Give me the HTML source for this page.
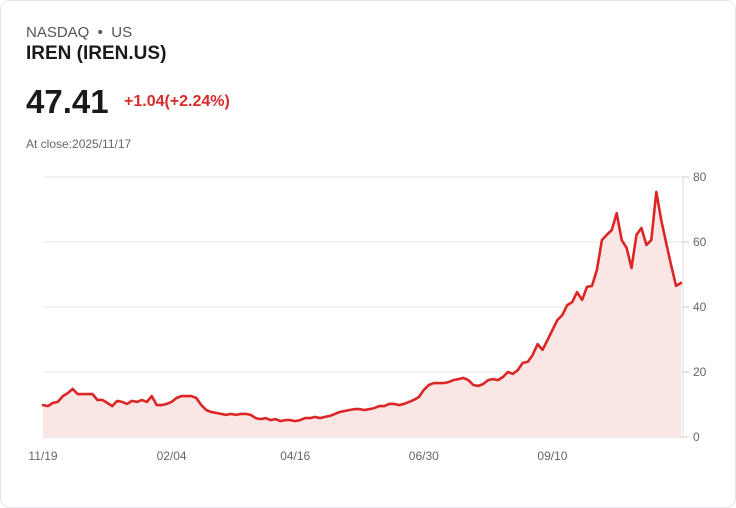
<!DOCTYPE html>
<html><head><meta charset="utf-8"><style>
body{margin:0;background:#fff;font-family:"Liberation Sans",sans-serif;}
#card{position:absolute;left:0;top:0;width:734px;height:506px;border:1px solid #e3e6ea;border-radius:10px;background:#fff;}
.t{position:absolute;white-space:nowrap;}
</style></head><body>
<div id="card">
<div class="t" style="left:25px;top:23px;font-size:15px;color:#555;">NASDAQ &nbsp;•&nbsp; US</div>
<div class="t" style="left:25px;top:42px;font-size:19px;font-weight:bold;color:#1a1a1a;">IREN (IREN.US)</div>
<div class="t" style="left:25px;top:82px;font-size:33px;font-weight:bold;color:#1a1a1a;">47.41</div>
<div class="t" style="left:123px;top:92px;font-size:16px;font-weight:bold;color:#d92b2b;">+1.04(+2.24%)</div>
<div class="t" style="left:25px;top:136px;font-size:12px;color:#666;">At close:2025/11/17</div>
<svg id="chart" width="736" height="508" style="position:absolute;left:-1px;top:-1px;"></svg>
</div>
<script>
const values=[9.8,9.5,10.5,10.8,12.6,13.5,14.8,13.2,13.2,13.2,13.2,11.4,11.4,10.5,9.5,11.1,10.8,10.2,11.1,10.8,11.4,10.8,12.6,9.8,9.8,10.2,10.8,12.0,12.6,12.6,12.6,12.0,9.8,8.3,7.7,7.4,7.1,6.8,7.1,6.8,7.1,7.1,6.8,5.8,5.5,5.8,5.2,5.5,4.9,5.2,5.2,4.9,5.2,5.8,5.8,6.2,5.8,6.2,6.5,7.1,7.7,8.0,8.3,8.6,8.6,8.3,8.6,8.9,9.5,9.5,10.2,10.2,9.8,10.2,10.8,11.4,12.3,14.5,16.0,16.6,16.6,16.6,16.9,17.5,17.8,18.2,17.5,16.0,15.7,16.3,17.5,17.8,17.5,18.5,20.0,19.4,20.6,22.8,23.1,25.2,28.6,26.8,29.8,32.9,36.0,37.5,40.6,41.5,44.6,42.2,46.2,46.5,51.4,60.6,62.2,63.7,68.9,60.6,58.2,52.0,62.2,64.3,59.1,60.6,75.4,66.8,59.7,52.9,46.5,47.41];
const yTicks=[0,20,40,60,80];
const xLabels=["11/19","02/04","04/16","06/30","09/10"];
const xLabelIdx=[0,26,51,77,103];
const svg=document.getElementById('chart');
const NS='http://www.w3.org/2000/svg';
const X0=43,X1=683,Y0=437,Y1=177,VMAX=80;
const xs=i=>X0+(X1-2-X0)*i/(values.length-1);
const ys=v=>Y0-(Y0-Y1)*v/VMAX;
function mk(t,a){const e=document.createElementNS(NS,t);for(const k in a)e.setAttribute(k,a[k]);svg.appendChild(e);return e;}
yTicks.forEach(v=>{
 const l=mk('line',{x1:X0,x2:X1,y1:ys(v),y2:ys(v),stroke:v===0?'#cfcfcf':'#e6e6e6','stroke-width':1});
 
 
 const tk=mk('line',{x1:X1,x2:X1+6,y1:ys(v),y2:ys(v),stroke:'#ccc'});
 
 
 const t=mk('text',{x:X1+10,y:ys(v)+4,'font-size':12,fill:'#666','font-family':'Liberation Sans, sans-serif'});
 t.textContent=v;
 
 
});
const ax=mk('line',{x1:X1,x2:X1,y1:Y1,y2:Y0,stroke:'#ddd'});


xLabels.forEach((s,k)=>{
 const t=mk('text',{x:xs(xLabelIdx[k]),y:460,'font-size':12,fill:'#666','text-anchor':'middle','font-family':'Liberation Sans, sans-serif'});
 t.textContent=s;
 
 
});
let d=values.map((v,i)=>(i?'L':'M')+xs(i).toFixed(1)+','+ys(v).toFixed(1)).join('');
const area=mk('path',{d:d+'L'+xs(values.length-1)+','+Y0+'L'+X0+','+Y0+'Z',fill:'#fbe6e6'});


const line=mk('path',{d:d,fill:'none',stroke:'#dc2626','stroke-width':2.6,'stroke-linejoin':'round','stroke-linecap':'round'});


</script>
</body></html>
